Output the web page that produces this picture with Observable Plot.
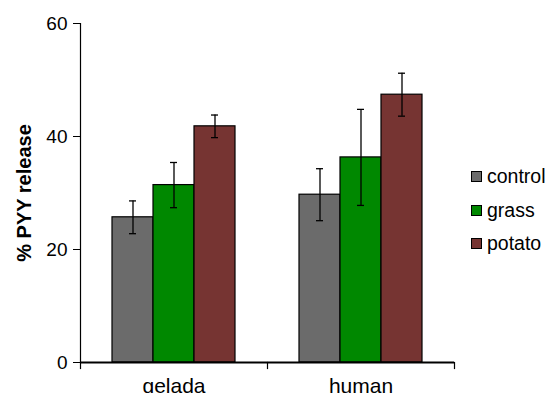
<!DOCTYPE html>
<html>
<head>
<meta charset="utf-8">
<script src="https://cdn.jsdelivr.net/npm/d3@7"></script>
<script src="https://cdn.jsdelivr.net/npm/@observablehq/plot@0.6"></script>
<style>
  html, body { margin: 0; padding: 0; background: #fff; }
  #wrap { position: relative; width: 550px; height: 393px; overflow: hidden; font-family: "Liberation Sans", Arial, sans-serif; }
  .chart g[aria-label="y-axis label"] text { font-weight: bold; font-size: 20px; }
  .chart g[aria-label="fx-axis tick label"] { font-size: 21px; }
  .chart g[aria-label="fx-axis tick label"] text { font-size: 21px; }
  #legend { position: absolute; left: 471px; top: 160px; font-size: 19.5px; color: #000; }
  #legend .item { display: flex; align-items: center; height: 33.5px; }
  #legend .sw { width: 9px; height: 9px; border: 1px solid #000; margin-right: 5px; }
</style>
</head>
<body>
<div id="wrap"></div>
<script>
const groups = ["gelada", "human"];
const treatments = ["control", "grass", "potato"];
const colors = ["#6b6b6b", "#008800", "#763432"];
// mean values per group, in treatment order
const geladaMeans = [25.7, 31.4, 41.8];
const humanMeans = [29.7, 36.3, 47.4];
// error (± half-range)
const geladaErr = [2.9, 4.0, 2.0];
const humanErr = [4.6, 8.5, 3.8];
const yTicks = [0, 20, 40, 60];

const rows = [];
groups.forEach((g, gi) => {
  const means = gi === 0 ? geladaMeans : humanMeans;
  const errs = gi === 0 ? geladaErr : humanErr;
  treatments.forEach((t, ti) => {
    rows.push({group: g, treatment: t, value: means[ti], lo: means[ti] - errs[ti], hi: means[ti] + errs[ti]});
  });
});

const chart = Plot.plot({
  className: "chart",
  width: 550,
  height: 393,
  marginLeft: 79,
  marginRight: 96,
  marginTop: 23,
  marginBottom: 31,
  style: {fontFamily: "'Liberation Sans', Arial, sans-serif", fontSize: "19px", color: "#000", background: "#fff"},
  fx: {domain: groups, padding: 0, axis: "bottom", label: null, tickSize: 0, tickPadding: 16},
  x: {domain: treatments, paddingInner: 0, paddingOuter: 0.74, axis: null},
  y: {domain: [0, 60], ticks: yTicks, tickSize: 7, tickPadding: 6, label: "% PYY release", labelAnchor: "center", labelOffset: 64, labelArrow: "none", tickFormat: d => String(d)},
  color: {domain: treatments, range: colors},
  marks: [
    Plot.barY(rows, {fx: "group", x: "treatment", y: "value", fill: "treatment", stroke: "#000", strokeWidth: 1.2}),
    Plot.ruleX(rows, {fx: "group", x: "treatment", y1: "lo", y2: "hi", stroke: "#000", strokeWidth: 1.3}),
    Plot.tickY(rows, {fx: "group", x: "treatment", y: "lo", stroke: "#000", strokeWidth: 1.3, insetLeft: 17, insetRight: 17}),
    Plot.tickY(rows, {fx: "group", x: "treatment", y: "hi", stroke: "#000", strokeWidth: 1.3, insetLeft: 17, insetRight: 17}),
    Plot.frame({anchor: "left", fx: () => "gelada", stroke: "#000", strokeWidth: 1.2}),
    Plot.ruleY([0], {stroke: "#000", strokeWidth: 2}),
    Plot.frame({anchor: "left", stroke: "#000", strokeWidth: 1.2, insetTop: 339, insetBottom: -6}),
    Plot.frame({anchor: "right", fx: () => "human", stroke: "#000", strokeWidth: 1.2, insetTop: 339, insetBottom: -6})
  ]
});
document.getElementById("wrap").appendChild(chart);

const legend = document.createElement("div");
legend.id = "legend";
treatments.forEach((t, i) => {
  const item = document.createElement("div");
  item.className = "item";
  const sw = document.createElement("span");
  sw.className = "sw";
  sw.style.background = colors[i];
  const lab = document.createElement("span");
  lab.textContent = t;
  item.appendChild(sw);
  item.appendChild(lab);
  legend.appendChild(item);
});
document.getElementById("wrap").appendChild(legend);
</script>
</body>
</html>
